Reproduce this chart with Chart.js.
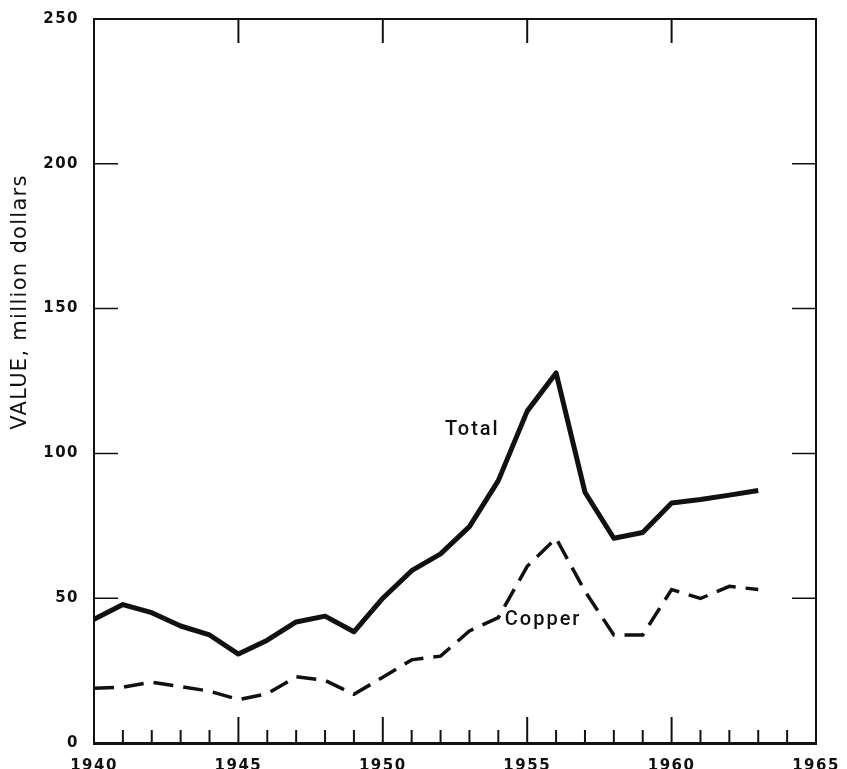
<!DOCTYPE html>
<html>
<head>
<meta charset="utf-8">
<script src="https://cdn.jsdelivr.net/npm/chart.js@4.4.1/dist/chart.umd.min.js"></script>
<style>
  html, body { margin: 0; background: #fff; }
</style>
</head>
<body>
<canvas id="chart" width="847" height="769"></canvas>
<script>
// Données
const years = [1940, 1941, 1942, 1943, 1944, 1945, 1946, 1947, 1948, 1949, 1950, 1951,
               1952, 1953, 1954, 1955, 1956, 1957, 1958, 1959, 1960, 1961, 1962, 1963];
const totalValues = [42.7, 47.8, 45, 40.4, 37.3, 30.7, 35.5, 41.8, 43.8, 38.4, 50, 59.5,
                     65.3, 74.7, 90.6, 114.6, 127.8, 86.6, 70.7, 72.7, 82.9, 84.1, 85.6, 87.2];
const copperValues = [18.9, 19.3, 21, 19.5, 17.9, 15, 17, 22.9, 21.6, 16.8, 22.7, 28.7,
                      30, 38.7, 43.3, 61, 70.7, 52.4, 37.3, 37.3, 53, 49.9, 54.1, 53];
const xTickLabels = [1940, 1945, 1950, 1955, 1960, 1965];
const yTickLabels = [0, 50, 100, 150, 200, 250];
const seriesNames = ['Total', 'Copper'];
const axisTitle = 'VALUE, million dollars';

const ink = '#111';

function toPoints(values) {
  return years.map((yr, i) => ({ x: yr, y: values[i] }));
}

// Cadre, graduations intérieures et textes
const framePlugin = {
  id: 'frame',
  beforeDraw(chart) {
    chart.ctx.letterSpacing = '1.5px';
  },
  afterDraw(chart) {
    const { ctx, chartArea: a, scales: { x, y } } = chart;
    ctx.save();
    ctx.strokeStyle = ink;
    ctx.lineWidth = 2;
    ctx.beginPath();
    ctx.moveTo(a.left, a.top);
    ctx.lineTo(a.right, a.top);
    ctx.lineTo(a.right, a.bottom);
    ctx.stroke();

    // graduations gauche et droite
    ctx.lineWidth = 1.5;
    yTickLabels.slice(1, -1).forEach(v => {
      const py = y.getPixelForValue(v);
      ctx.beginPath();
      ctx.moveTo(a.left, py); ctx.lineTo(a.left + 24, py);
      ctx.moveTo(a.right, py); ctx.lineTo(a.right - 24, py);
      ctx.stroke();
    });

    // graduations du bas (chaque année) et du haut (tous les 5 ans)
    ctx.lineWidth = 2;
    for (let yr = xTickLabels[0] + 1; yr < xTickLabels[xTickLabels.length - 1]; yr++) {
      const px = x.getPixelForValue(yr);
      const len = yr % 5 === 0 ? 26 : 13;
      ctx.beginPath();
      ctx.moveTo(px, a.bottom); ctx.lineTo(px, a.bottom - len);
      ctx.stroke();
      if (yr % 5 === 0) {
        ctx.beginPath();
        ctx.moveTo(px, a.top); ctx.lineTo(px, a.top + 24);
        ctx.stroke();
      }
    }

    // étiquettes des courbes
    ctx.fillStyle = ink;
    ctx.font = '500 20px Roboto';
    ctx.textAlign = 'center';
    ctx.textBaseline = 'middle';
    ctx.letterSpacing = '2px';
    ctx.fillText(seriesNames[0], x.getPixelForValue(1953.1), y.getPixelForValue(108));
    ctx.fillText(seriesNames[1], x.getPixelForValue(1955.55), y.getPixelForValue(42.5));

    // titre de l'axe vertical
    ctx.font = '21px "DejaVu Sans"';
    ctx.letterSpacing = '1.3px';
    ctx.translate(21, 302);
    ctx.rotate(-Math.PI / 2);
    ctx.fillText(axisTitle, 0, 0);
    ctx.restore();
  }
};

const tickFont = { family: 'DejaVu Sans', size: 15, weight: 'bold' };

new Chart(document.getElementById('chart'), {
  type: 'line',
  data: {
    datasets: [{
      label: seriesNames[0],
      data: toPoints(totalValues),
      borderColor: ink,
      borderWidth: 5,
      pointRadius: 0,
      tension: 0,
      borderJoinStyle: 'round'
    }, {
      label: seriesNames[1],
      data: toPoints(copperValues),
      borderColor: ink,
      borderWidth: 3.5,
      borderDash: [20, 10],
      pointRadius: 0,
      tension: 0
    }]
  },
  options: {
    responsive: false,
    animation: false,
    devicePixelRatio: 1,
    layout: { padding: { top: 19, right: 31, left: 0, bottom: 0 } },
    plugins: { legend: { display: false }, tooltip: { enabled: false } },
    scales: {
      x: {
        type: 'linear',
        min: xTickLabels[0],
        max: xTickLabels[xTickLabels.length - 1],
        grid: { display: false, drawTicks: false },
        border: { display: true, color: ink, width: 3 },
        afterBuildTicks: s => { s.ticks = xTickLabels.map(v => ({ value: v })); },
        afterFit: s => { s.height = 26; s.paddingLeft = 0; s.paddingRight = 0; },
        ticks: {
          color: ink,
          font: tickFont,
          padding: 14,
          maxRotation: 0,
          callback: v => String(v)
        }
      },
      y: {
        min: yTickLabels[0],
        max: yTickLabels[yTickLabels.length - 1],
        grid: { display: false, drawTicks: false },
        border: { display: true, color: ink, width: 2 },
        afterBuildTicks: s => { s.ticks = yTickLabels.map(v => ({ value: v })); },
        afterFit: s => { s.width = 94; s.paddingTop = 0; s.paddingBottom = 0; },
        ticks: {
          color: ink,
          font: tickFont,
          padding: 15,
          callback: v => String(v)
        }
      }
    }
  },
  plugins: [framePlugin]
});
</script>
</body>
</html>
